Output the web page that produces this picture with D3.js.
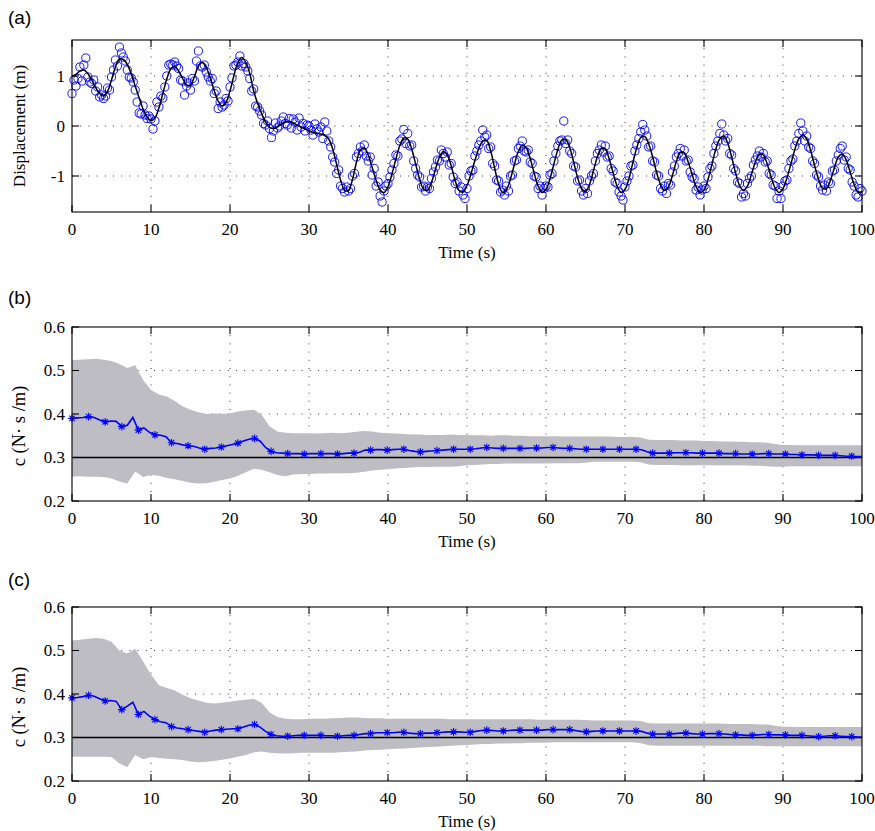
<!DOCTYPE html>
<html>
<head>
<meta charset="utf-8">
<script src="https://cdn.jsdelivr.net/npm/d3@7"></script>
<style>
body { margin: 0; background: #fff; }
text { fill: #000; }
</style>
</head>
<body>
<svg width="875" height="831"></svg>
<script>
// (a) true displacement, every 0.5 s from 0 to 100
var dispTrue = [
 1.00,1.03,1.10,1.12,1.05,0.92,0.77,0.65,0.60,0.69,
 0.92,1.18,1.34,1.33,1.23,1.04,0.80,0.56,0.34,0.18,
 0.11,0.16,0.36,0.65,0.94,1.14,1.19,1.10,0.95,0.82,
 0.82,0.99,1.20,1.27,1.17,0.96,0.71,0.50,0.40,0.47,
 0.70,1.01,1.27,1.37,1.27,1.05,0.70,0.45,0.25,0.08,
 -0.03,-0.05,-0.02,0.04,0.08,0.09,0.06,0.02,-0.02,-0.06,
 -0.10,-0.13,-0.15,-0.16,-0.19,-0.26,-0.46,-0.77,-1.08,-1.28,
 -1.29,-1.07,-0.73,-0.48,-0.44,-0.58,-0.83,-1.09,-1.28,-1.33,
 -1.21,-0.96,-0.66,-0.39,-0.24,-0.26,-0.46,-0.76,-1.06,-1.26,
 -1.28,-1.13,-0.87,-0.63,-0.51,-0.58,-0.80,-1.09,-1.29,-1.32,
 -1.19,-0.96,-0.69,-0.45,-0.30,-0.29,-0.50,-0.84,-1.16,-1.33,
 -1.27,-1.06,-0.77,-0.51,-0.38,-0.44,-0.65,-0.94,-1.20,-1.33,
 -1.27,-1.06,-0.76,-0.47,-0.28,-0.27,-0.43,-0.72,-1.03,-1.25,
 -1.31,-1.17,-0.90,-0.62,-0.45,-0.46,-0.66,-0.94,-1.20,-1.33,
 -1.27,-1.05,-0.73,-0.43,-0.23,-0.21,-0.36,-0.62,-0.93,-1.17,
 -1.29,-1.22,-0.99,-0.71,-0.53,-0.54,-0.72,-0.97,-1.21,-1.33,
 -1.28,-1.07,-0.77,-0.46,-0.26,-0.20,-0.34,-0.62,-0.94,-1.19,
 -1.29,-1.20,-0.97,-0.72,-0.57,-0.58,-0.76,-1.02,-1.24,-1.33,
 -1.25,-1.04,-0.76,-0.47,-0.26,-0.18,-0.26,-0.49,-0.79,-1.07,
 -1.24,-1.25,-1.09,-0.84,-0.62,-0.56,-0.68,-0.92,-1.17,-1.32,
 -1.31];

// (a) measured displacement (circles), every 0.25 s
var dispMeas = [
 0.65,0.92,0.80,0.95,1.18,0.90,1.22,1.36,0.98,0.88,
 0.85,0.92,0.70,0.78,0.58,0.62,0.55,0.60,0.76,0.72,
 0.98,1.12,1.32,1.20,1.58,1.46,1.38,1.30,1.12,0.98,
 0.96,0.88,0.72,0.48,0.26,0.24,0.40,0.22,0.15,0.20,
 0.14,-0.06,0.10,0.48,0.38,0.60,0.56,0.78,1.00,1.22,
 1.24,1.22,1.28,1.20,1.15,0.92,0.90,0.62,0.80,0.86,
 0.72,0.95,0.90,1.30,1.50,1.20,1.18,1.22,1.08,0.98,
 0.90,0.95,0.65,0.70,0.35,0.48,0.38,0.42,0.55,0.50,
 0.78,0.96,1.20,1.22,1.28,1.40,1.20,1.25,1.18,1.10,
 0.95,0.70,0.74,0.40,0.38,0.30,0.22,0.05,0.02,0.10,
 -0.05,-0.23,-0.10,0.06,-0.04,0.00,0.10,0.18,0.05,0.02,
 0.15,-0.04,0.14,0.08,-0.08,0.16,-0.02,0.05,-0.10,0.02,
 0.00,-0.08,-0.18,0.04,-0.06,-0.12,-0.02,-0.25,0.08,-0.10,
 -0.30,-0.42,-0.62,-0.72,-0.95,-0.88,-1.20,-1.25,-1.32,-1.22,
 -1.30,-1.25,-1.00,-0.95,-0.62,-0.55,-0.42,-0.50,-0.38,-0.60,
 -0.70,-0.62,-0.98,-0.85,-1.20,-1.12,-1.40,-1.52,-1.30,-1.20,
 -1.15,-1.02,-0.88,-0.75,-0.58,-0.60,-0.30,-0.26,-0.07,-0.35,
 -0.15,-0.40,-0.38,-0.70,-0.85,-0.98,-1.02,-1.22,-1.20,-1.30,
 -1.22,-1.25,-1.05,-0.92,-0.82,-0.68,-0.70,-0.48,-0.55,-0.62,
 -0.52,-0.78,-0.75,-1.02,-1.15,-1.12,-1.30,-1.22,-1.38,-1.45,
 -1.25,-1.00,-0.90,-0.88,-0.60,-0.50,-0.38,-0.30,-0.08,-0.22,
 -0.18,-0.45,-0.42,-0.75,-0.80,-1.08,-1.10,-1.32,-1.28,-1.38,
 -1.20,-1.30,-1.00,-0.98,-0.70,-0.68,-0.45,-0.40,-0.30,-0.50,
 -0.52,-0.48,-0.72,-0.75,-1.00,-1.02,-1.25,-1.20,-1.38,-1.25,
 -1.20,-1.22,-0.98,-0.95,-0.70,-0.55,-0.40,-0.30,-0.28,0.10,
 -0.35,-0.28,-0.50,-0.55,-0.80,-0.82,-1.10,-1.08,-1.30,-1.38,
 -1.25,-1.35,-1.10,-1.00,-0.95,-0.70,-0.55,-0.48,-0.38,-0.52,
 -0.40,-0.62,-0.60,-0.85,-0.90,-1.12,-1.15,-1.32,-1.40,-1.48,
 -1.22,-1.10,-1.00,-0.80,-0.78,-0.50,-0.38,-0.25,-0.12,0.03,
 -0.08,-0.20,-0.42,-0.40,-0.70,-0.72,-0.98,-1.00,-1.25,-1.30,
 -1.20,-1.35,-1.15,-1.18,-0.92,-0.80,-0.62,-0.55,-0.45,-0.60,
 -0.48,-0.70,-0.68,-0.92,-1.02,-1.05,-1.28,-1.22,-1.38,-1.28,
 -1.20,-1.25,-1.02,-0.85,-0.80,-0.55,-0.40,-0.30,-0.15,0.04,
 -0.18,-0.30,-0.25,-0.55,-0.58,-0.85,-0.90,-1.12,-1.15,-1.42,
 -1.35,-1.40,-1.15,-1.05,-1.00,-0.78,-0.68,-0.60,-0.50,-0.62,
 -0.55,-0.72,-0.70,-0.95,-0.98,-1.18,-1.20,-1.45,-1.30,-1.45,
 -1.20,-1.10,-1.08,-0.85,-0.70,-0.66,-0.40,-0.30,-0.15,0.06,
 -0.10,-0.30,-0.20,-0.42,-0.45,-0.70,-0.75,-0.98,-1.02,-1.20,
 -1.28,-1.18,-1.30,-1.12,-1.15,-0.90,-0.88,-0.70,-0.58,-0.45,
 -0.40,-0.68,-0.62,-0.85,-0.88,-1.12,-1.20,-1.38,-1.42,-1.25,
 -1.30];

// (b) estimated c, every 0.7 s (last point at 100 s), markers every 3rd point
var cEstB = [
 0.390,0.391,0.392,0.394,0.392,0.386,0.382,0.384,0.383,0.371,
 0.374,0.392,0.363,0.368,0.358,0.352,0.351,0.348,0.334,0.332,
 0.329,0.327,0.326,0.322,0.319,0.321,0.322,0.324,0.327,0.330,
 0.333,0.338,0.342,0.344,0.338,0.323,0.314,0.311,0.310,0.309,
 0.309,0.309,0.308,0.309,0.309,0.309,0.309,0.309,0.308,0.309,
 0.310,0.310,0.312,0.317,0.317,0.318,0.318,0.317,0.318,0.319,
 0.319,0.316,0.314,0.313,0.314,0.315,0.316,0.317,0.318,0.319,
 0.319,0.319,0.319,0.320,0.322,0.323,0.322,0.321,0.321,0.321,
 0.321,0.321,0.321,0.322,0.322,0.322,0.323,0.323,0.322,0.321,
 0.321,0.320,0.319,0.319,0.319,0.319,0.319,0.319,0.319,0.319,
 0.319,0.319,0.319,0.318,0.313,0.310,0.310,0.310,0.310,0.311,
 0.311,0.311,0.311,0.310,0.310,0.310,0.310,0.310,0.309,0.309,
 0.309,0.308,0.308,0.308,0.308,0.309,0.309,0.308,0.308,0.308,
 0.307,0.307,0.306,0.306,0.306,0.305,0.305,0.305,0.305,0.304,
 0.303,0.303,0.302,0.302];

// (b) uncertainty band, every 1 s
var bandUpB = [
 0.524,0.525,0.526,0.527,0.525,0.522,0.515,0.506,0.512,0.478,
 0.455,0.445,0.440,0.430,0.418,0.410,0.404,0.400,0.401,0.400,
 0.402,0.406,0.408,0.410,0.398,0.372,0.360,0.357,0.356,0.356,
 0.356,0.355,0.356,0.357,0.356,0.357,0.359,0.361,0.360,0.357,
 0.356,0.355,0.354,0.353,0.353,0.352,0.352,0.352,0.353,0.352,
 0.352,0.351,0.351,0.350,0.351,0.351,0.350,0.350,0.349,0.349,
 0.349,0.349,0.348,0.348,0.348,0.348,0.348,0.348,0.348,0.347,
 0.347,0.347,0.346,0.341,0.340,0.340,0.340,0.339,0.339,0.339,
 0.338,0.338,0.337,0.337,0.336,0.336,0.335,0.335,0.334,0.331,
 0.329,0.329,0.328,0.328,0.328,0.328,0.328,0.328,0.328,0.328,
 0.328];
var bandLoB = [
 0.256,0.257,0.256,0.256,0.255,0.252,0.245,0.240,0.268,0.255,
 0.260,0.258,0.253,0.250,0.246,0.242,0.240,0.241,0.244,0.248,
 0.252,0.258,0.266,0.274,0.272,0.266,0.260,0.257,0.261,0.262,
 0.262,0.263,0.263,0.264,0.264,0.264,0.265,0.267,0.270,0.272,
 0.273,0.275,0.276,0.277,0.278,0.278,0.279,0.279,0.279,0.280,
 0.282,0.283,0.284,0.285,0.285,0.286,0.286,0.286,0.286,0.286,
 0.286,0.287,0.287,0.287,0.287,0.288,0.290,0.290,0.290,0.290,
 0.290,0.290,0.289,0.284,0.283,0.283,0.283,0.282,0.282,0.282,
 0.282,0.282,0.282,0.282,0.282,0.282,0.281,0.281,0.280,0.279,
 0.279,0.280,0.280,0.280,0.280,0.280,0.280,0.280,0.280,0.280,
 0.280];

// (c) estimated c, every 0.7 s
var cEstC = [
 0.391,0.392,0.394,0.397,0.395,0.389,0.384,0.385,0.383,0.364,
 0.372,0.381,0.353,0.360,0.349,0.341,0.336,0.334,0.325,0.322,
 0.320,0.318,0.316,0.314,0.312,0.315,0.317,0.318,0.319,0.320,
 0.320,0.324,0.328,0.330,0.324,0.314,0.307,0.304,0.303,0.303,
 0.304,0.305,0.305,0.305,0.305,0.305,0.304,0.304,0.303,0.304,
 0.305,0.305,0.307,0.309,0.309,0.311,0.311,0.311,0.311,0.312,
 0.312,0.310,0.309,0.309,0.310,0.310,0.311,0.312,0.313,0.313,
 0.313,0.312,0.312,0.314,0.316,0.317,0.316,0.315,0.315,0.316,
 0.317,0.317,0.317,0.317,0.317,0.317,0.318,0.318,0.318,0.318,
 0.318,0.316,0.314,0.313,0.314,0.315,0.315,0.315,0.315,0.315,
 0.315,0.315,0.315,0.314,0.310,0.308,0.308,0.308,0.308,0.309,
 0.310,0.310,0.309,0.308,0.308,0.309,0.309,0.309,0.308,0.307,
 0.306,0.306,0.305,0.305,0.306,0.307,0.307,0.306,0.306,0.306,
 0.305,0.305,0.305,0.304,0.303,0.302,0.303,0.304,0.304,0.303,
 0.302,0.302,0.301,0.301];

var bandUpC = [
 0.523,0.525,0.527,0.529,0.527,0.520,0.500,0.493,0.504,0.475,
 0.445,0.420,0.414,0.408,0.398,0.390,0.385,0.380,0.378,0.380,
 0.382,0.385,0.387,0.389,0.380,0.358,0.347,0.343,0.342,0.342,
 0.343,0.343,0.343,0.344,0.345,0.346,0.346,0.345,0.344,0.344,
 0.343,0.343,0.343,0.343,0.343,0.343,0.343,0.343,0.342,0.342,
 0.342,0.342,0.342,0.342,0.342,0.342,0.342,0.342,0.342,0.341,
 0.341,0.341,0.341,0.341,0.341,0.340,0.339,0.339,0.339,0.339,
 0.339,0.339,0.338,0.333,0.332,0.332,0.332,0.332,0.332,0.332,
 0.332,0.332,0.332,0.331,0.331,0.331,0.331,0.330,0.330,0.327,
 0.325,0.325,0.324,0.324,0.324,0.324,0.324,0.324,0.324,0.324,
 0.324];
var bandLoC = [
 0.256,0.256,0.256,0.256,0.256,0.255,0.240,0.232,0.260,0.250,
 0.255,0.253,0.251,0.250,0.248,0.245,0.243,0.244,0.246,0.249,
 0.252,0.256,0.260,0.266,0.268,0.265,0.264,0.263,0.264,0.265,
 0.265,0.265,0.265,0.265,0.266,0.267,0.268,0.270,0.271,0.272,
 0.273,0.274,0.275,0.276,0.277,0.278,0.279,0.280,0.281,0.282,
 0.283,0.284,0.285,0.285,0.286,0.286,0.287,0.287,0.288,0.288,
 0.288,0.289,0.289,0.289,0.289,0.289,0.289,0.289,0.289,0.289,
 0.289,0.289,0.287,0.282,0.281,0.281,0.281,0.281,0.281,0.281,
 0.281,0.281,0.281,0.281,0.281,0.281,0.281,0.281,0.280,0.280,
 0.280,0.280,0.280,0.280,0.280,0.280,0.280,0.280,0.280,0.280,
 0.280];

var cTrue = 0.3;
var xTicks = [0, 10, 20, 30, 40, 50, 60, 70, 80, 90, 100];
var yTicksA = [-1, 0, 1];
var yTicksC = [0.2, 0.3, 0.4, 0.5, 0.6];

var svg = d3.select("svg");
var serif = "'Liberation Serif','Times New Roman',serif";
var sans = "'Liberation Sans',Arial,sans-serif";

var x = d3.scaleLinear().domain([0, 100]).range([72, 862]);

// draws grid, ticks, labels and the box of one panel
function frame(g, y, yTicks, fmt, tag, tagY, ylab, ylabY, ylabSize) {
    var top = y.range()[1], bot = y.range()[0];
    var grid = g.append("g").attr("stroke", "#222").attr("stroke-width", 0.9)
        .attr("stroke-dasharray", "1,7.2");
    xTicks.slice(1, -1).forEach(function(t) {
        grid.append("line").attr("x1", x(t)).attr("x2", x(t)).attr("y1", top).attr("y2", bot);
    });
    yTicks.forEach(function(v) {
        if (y(v) <= top + 1 || y(v) >= bot - 1) return;
        grid.append("line").attr("x1", 72).attr("x2", 862).attr("y1", y(v)).attr("y2", y(v));
    });
    return function finish() {
        var ax = g.append("g").attr("stroke", "#000").attr("stroke-width", 1.1);
        xTicks.forEach(function(t) {
            ax.append("line").attr("x1", x(t)).attr("x2", x(t)).attr("y1", top).attr("y2", top + 7);
            ax.append("line").attr("x1", x(t)).attr("x2", x(t)).attr("y1", bot).attr("y2", bot - 7);
        });
        yTicks.forEach(function(v) {
            ax.append("line").attr("x1", 72).attr("x2", 79).attr("y1", y(v)).attr("y2", y(v));
            ax.append("line").attr("x1", 862).attr("x2", 855).attr("y1", y(v)).attr("y2", y(v));
        });
        ax.append("rect").attr("x", 72).attr("y", top).attr("width", 790).attr("height", bot - top)
            .attr("fill", "none");

        g.selectAll(".xt").data(xTicks).enter().append("text")
            .attr("x", function(d) { return x(d); })
            .attr("y", bot + 23)
            .attr("text-anchor", "middle")
            .style("font-family", serif).style("font-size", "17px")
            .text(function(d) { return d; });
        g.selectAll(".yt").data(yTicks).enter().append("text")
            .attr("x", 65)
            .attr("y", function(d) { return y(d) + 5.8; })
            .attr("text-anchor", "end")
            .style("font-family", serif).style("font-size", "17px")
            .text(fmt);
        g.append("text").attr("x", 467).attr("y", bot + 46)
            .attr("text-anchor", "middle")
            .style("font-family", serif).style("font-size", "17px")
            .text("Time (s)");
        g.append("text")
            .attr("transform", "translate(25," + ylabY + ") rotate(-90)")
            .attr("text-anchor", "middle")
            .style("font-family", serif).style("font-size", ylabSize)
            .text(ylab);
        g.append("text").attr("x", 8).attr("y", tagY)
            .style("font-family", sans).style("font-size", "19px")
            .text(tag);
    };
}

// ---------- panel (a)
var yA = d3.scaleLinear().domain([-1.72, 1.72]).range([212, 40]);
var gA = svg.append("g");
var doneA = frame(gA, yA, yTicksA, function(d) { return d; }, "(a)", 24,
    "Displacement (m)", 126, "17px");

gA.selectAll(".meas").data(dispMeas).enter().append("circle")
    .attr("cx", function(d, i) { return x(i * 0.25); })
    .attr("cy", function(d) { return yA(d); })
    .attr("r", 4.1)
    .attr("fill", "none")
    .attr("stroke", "#0000ff")
    .attr("stroke-width", 0.9);

gA.append("path").datum(dispTrue)
    .attr("fill", "none").attr("stroke", "#000").attr("stroke-width", 1.5)
    .attr("d", d3.line()
        .x(function(d, i) { return x(i * 0.5); })
        .y(function(d) { return yA(d); })
        .curve(d3.curveCatmullRom));
doneA();

// ---------- panels (b) and (c)
function starPath(s) {
    var a = s * 0.72;
    return "M" + (-s) + ",0H" + s + "M0," + (-s) + "V" + s +
        "M" + (-a) + "," + (-a) + "L" + a + "," + a +
        "M" + (-a) + "," + a + "L" + a + "," + (-a);
}

function cPanel(top, est, up, lo, tag, tagY, ylabY) {
    var y = d3.scaleLinear().domain([0.2, 0.6]).range([top + 174, top]);
    var g = svg.append("g");
    var done = frame(g, y, yTicksC, function(d) { return d.toFixed(1); }, tag, tagY,
        "c (N\u00b7 s /m)", ylabY, "18.5px");

    var band = up.map(function(u, i) { return { t: i, u: u, l: lo[i] }; });
    g.append("path").datum(band)
        .attr("fill", "#bdbdc3")
        .attr("d", d3.area()
            .x(function(d) { return x(d.t); })
            .y0(function(d) { return y(d.l); })
            .y1(function(d) { return y(d.u); }));

    g.append("line").attr("x1", x(0)).attr("x2", x(100))
        .attr("y1", y(cTrue)).attr("y2", y(cTrue))
        .attr("stroke", "#000").attr("stroke-width", 1.3);

    var pts = est.map(function(v, i) { return { t: Math.min(i * 0.7, 100), v: v, i: i }; });
    g.append("path").datum(pts)
        .attr("fill", "none").attr("stroke", "#0000ff").attr("stroke-width", 1.6)
        .attr("d", d3.line()
            .x(function(d) { return x(d.t); })
            .y(function(d) { return y(d.v); }));

    g.selectAll(".mk").data(pts.filter(function(d) { return d.i % 3 === 0 && d.t < 100; }))
        .enter().append("path")
        .attr("transform", function(d) { return "translate(" + x(d.t) + "," + y(d.v) + ")"; })
        .attr("d", starPath(3.8))
        .attr("fill", "none").attr("stroke", "#0000ff").attr("stroke-width", 1.1);
    done();
}

cPanel(327, cEstB, bandUpB, bandLoB, "(b)", 304, 426);
cPanel(607, cEstC, bandUpC, bandLoC, "(c)", 586, 707);
</script>
</body>
</html>
